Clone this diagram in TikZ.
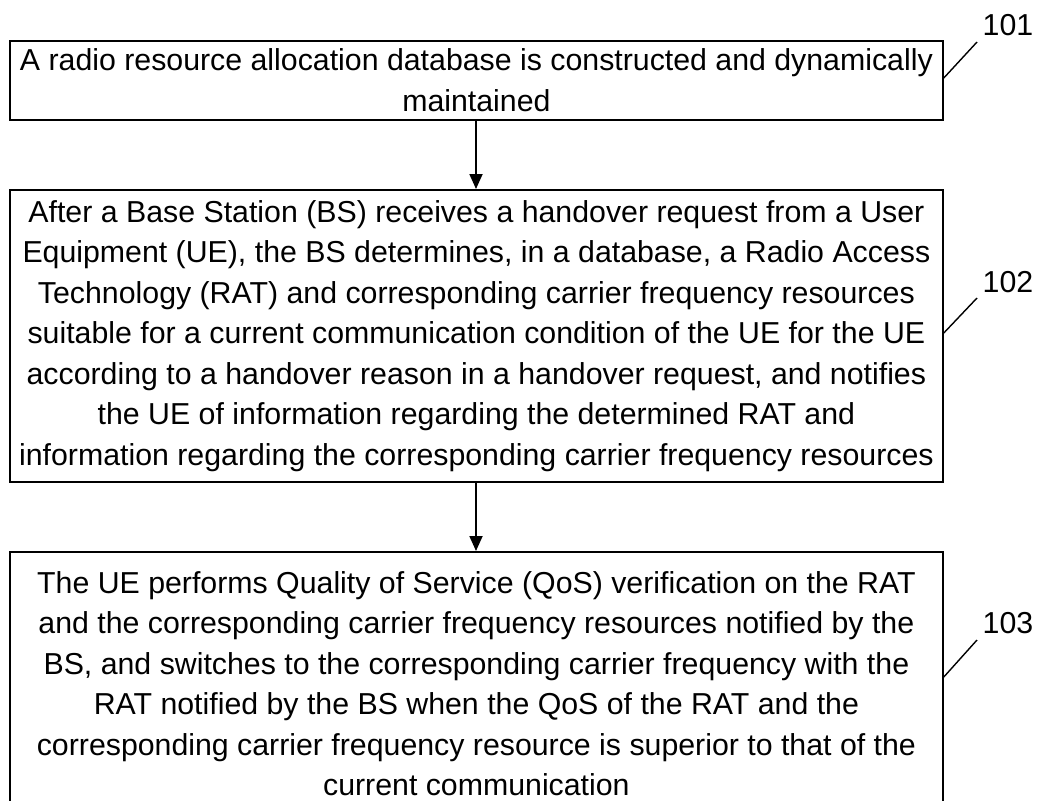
\documentclass[tikz,border=0pt]{standalone}
\usepackage{fontspec}
\setmainfont{Liberation Sans}
\usetikzlibrary{arrows.meta}
\begin{document}
\begin{tikzpicture}[x=1pt,y=1pt,
  stepbox/.style={draw=black,line width=1.8pt,anchor=north west,inner sep=0pt,
    minimum width=933pt,align=center,font=\fontsize{30.3}{40.5}\selectfont},
  flow/.style={line width=1.8pt,-{Triangle[length=15pt,width=13pt]}},
  leader/.style={line width=1.4pt},
  reflabel/.style={font=\fontsize{30.3}{38}\selectfont,inner sep=0pt}]
\useasboundingbox (0,0) rectangle (1037,-801);
\clip (0,0) rectangle (1037,-801);
\node[stepbox,minimum height=79pt] (b1) at (9,-40)
  {A radio resource allocation database is constructed and dynamically\\maintained};
\node[stepbox,minimum height=292pt] (b2) at (9,-189)
  {After a Base Station (BS) receives a handover request from a User\\
   Equipment (UE), the BS determines, in a database, a Radio Access\\
   Technology (RAT) and corresponding carrier frequency resources\\
   suitable for a current communication condition of the UE for the UE\\
   according to a handover reason in a handover request, and notifies\\
   the UE of information regarding the determined RAT and\\
   information regarding the corresponding carrier frequency resources};
\node[stepbox,minimum height=264pt] (b3) at (9,-551)
  {The UE performs Quality of Service (QoS) verification on the RAT\\
   and the corresponding carrier frequency resources notified by the\\
   BS, and switches to the corresponding carrier frequency with the\\
   RAT notified by the BS when the QoS of the RAT and the\\
   corresponding carrier frequency resource is superior to that of the\\
   current communication};
\draw[flow] (b1.south -| 476,0) -- (b2.north -| 476,0);
\draw[flow] (b2.south -| 476,0) -- (b3.north -| 476,0);
\coordinate (l1) at (977,-42);
\coordinate (l2) at (977,-298);
\coordinate (l3) at (977,-640);
\node[reflabel] (t1) at (1008,-25) {101};
\node[reflabel] (t2) at (1008,-282) {102};
\node[reflabel] (t3) at (1008,-623) {103};
\draw[leader] (b1.east |- 0,-78) -- (l1);
\draw[leader] (b2.east |- 0,-333) -- (l2);
\draw[leader] (b3.east |- 0,-677) -- (l3);
\end{tikzpicture}
\end{document}
